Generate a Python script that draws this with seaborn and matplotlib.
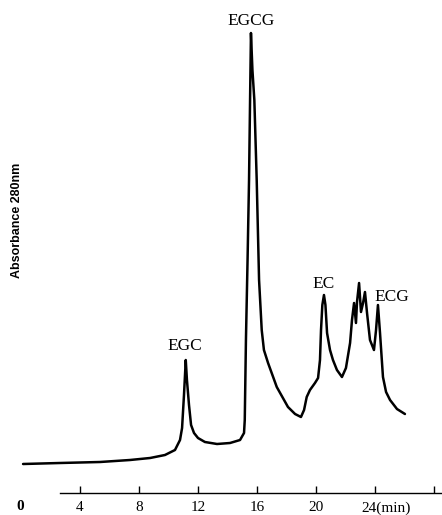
import matplotlib
matplotlib.use("Agg")
import matplotlib.pyplot as plt
import matplotlib.transforms as mtransforms
import seaborn as sns
import pandas as pd

# Retention time (min) and absorbance at 280 nm (arbitrary units)
time_min = [0.14, 2.64, 5.36, 7.39, 8.75, 9.76, 10.44, 10.78, 10.92, 11.05,
            11.17, 11.25, 11.39, 11.53, 11.73, 12.00, 12.47, 13.29, 14.17, 14.85,
            15.12, 15.17, 15.25, 15.36, 15.46, 15.53, 15.59, 15.69, 15.82, 15.98,
            16.14, 16.32, 16.47, 16.75, 17.34, 18.10, 18.58, 18.98, 19.19, 19.37,
            19.59, 19.93, 20.14, 20.27, 20.34, 20.43, 20.54, 20.64, 20.75, 20.95,
            21.15, 21.42, 21.76, 22.03, 22.31, 22.44, 22.58, 22.71, 22.78, 22.92,
            23.05, 23.19, 23.32, 23.46, 23.66, 23.93, 24.07, 24.20, 24.34, 24.54,
            24.75, 25.02, 25.49, 26.03]
absorbance = [0.29, 0.30, 0.31, 0.33, 0.35, 0.38, 0.43, 0.53, 0.65, 0.98,
              1.33, 1.13, 0.88, 0.68, 0.60, 0.55, 0.51, 0.49, 0.50, 0.53,
              0.60, 0.73, 1.53, 2.33, 3.13, 3.93, 4.60, 4.23, 3.93, 3.13,
              2.13, 1.63, 1.43, 1.30, 1.06, 0.86, 0.79, 0.76, 0.83, 0.96,
              1.03, 1.10, 1.15, 1.33, 1.63, 1.88, 1.98, 1.88, 1.60, 1.43,
              1.33, 1.23, 1.16, 1.25, 1.50, 1.73, 1.90, 1.70, 1.91, 2.10,
              1.81, 1.90, 2.01, 1.80, 1.53, 1.43, 1.63, 1.88, 1.60, 1.16,
              1.01, 0.93, 0.84, 0.79]

# Peak labels and label positions (time, absorbance)
peak_names = ["EGC", "EGCG", "EC", "ECG"]
peak_label_t = [11.12, 15.59, 20.54, 25.15]
peak_label_a = [1.47, 4.72, 2.09, 1.96]

tick_values = [4, 8, 12, 16, 20, 24, 28]
tick_labels = ["4", "8", "12", "16", "20", "24(min)", ""]

df = pd.DataFrame({"time": time_min, "abs": absorbance})

sns.set_style("white")
plt.rcParams["font.family"] = ["Liberation Serif", "DejaVu Serif"]

W, H = 442, 515
fig = plt.figure(figsize=(W / 100, H / 100), dpi=100)
ax_left = 21 / W
ax_bottom = 22 / H
ax_w = 28.5 * 14.75 / W
ax_h = 493 / H
ax = fig.add_axes([ax_left, ax_bottom, ax_w, ax_h])

sns.lineplot(data=df, x="time", y="abs", ax=ax, color="black",
             linewidth=1.8, estimator=None, sort=False)

ax.set_xlim(0, 28.5)
ax.set_ylim(0, 4.93)

for s in ["left", "top", "right"]:
    ax.spines[s].set_visible(False)
ax.spines["bottom"].set_linewidth(1.0)
ax.spines["bottom"].set_color("black")
ax.spines["bottom"].set_bounds(2.65, 28.5)

ax.set_yticks([])
ax.set_xticks(tick_values)
ax.set_xticklabels(tick_labels, fontsize=11)
ax.tick_params(axis="x", direction="in", length=5, width=1.0, pad=6,
               colors="black", bottom=True)
for lbl, v in zip(ax.get_xticklabels(), tick_values):
    if v == 24:
        lbl.set_horizontalalignment("left")
        lbl.set_transform(lbl.get_transform() +
                          mtransforms.ScaledTranslation(-14 / 100, 0, fig.dpi_scale_trans))

ax.set_xlabel("")
ax.set_ylabel("")

# "0" origin label
fig.text(20 / W, 1 - 507 / H, "0", ha="center", va="center",
         fontsize=11, fontweight="bold", color="black")

for name, t, a in zip(peak_names, peak_label_t, peak_label_a):
    ax.text(t, a, name, ha="center", va="center", fontsize=12.5, color="black")

fig.text(17.5 / W, 1 - 220 / H, "Absorbance 280nm", rotation=90, ha="center",
         va="center", fontsize=9, fontweight="bold",
         family=["Liberation Sans", "DejaVu Sans"], color="black")

fig.savefig("out.png", dpi=100)
